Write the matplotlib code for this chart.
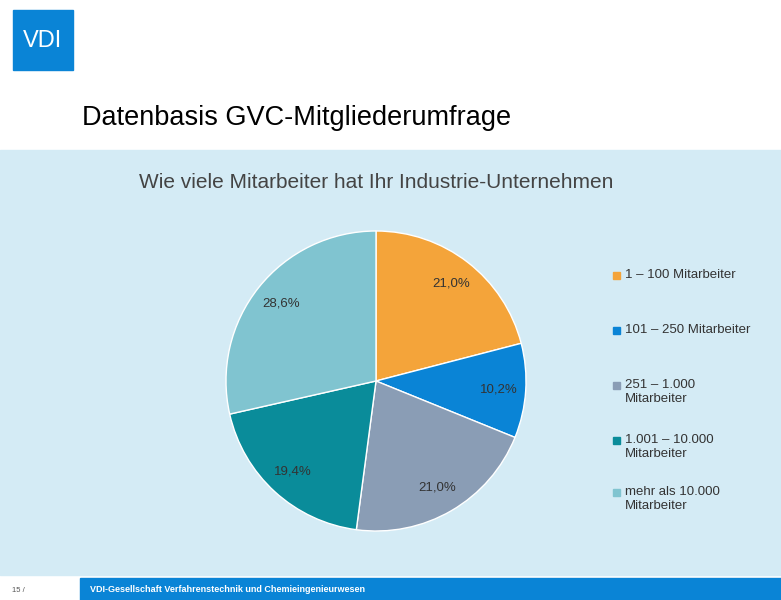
import numpy as np
import matplotlib.pyplot as plt
from matplotlib.patches import Rectangle

labels = ['1 – 100 Mitarbeiter', '101 – 250 Mitarbeiter', '251 – 1.000\nMitarbeiter',
          '1.001 – 10.000\nMitarbeiter', 'mehr als 10.000\nMitarbeiter']
values = [21.0, 10.2, 21.0, 19.4, 28.6]
colors = ['#F4A43A', '#0A84D6', '#8A9DB5', '#0A8C9A', '#80C4D0']

W, H = 781, 600
fig = plt.figure(figsize=(W / 100, H / 100), dpi=100)
bg = fig.add_axes([0, 0, 1, 1])
bg.set_xlim(0, W)
bg.set_ylim(H, 0)
bg.axis('off')

# panel, logo, footer
bg.add_patch(Rectangle((0, 150), W, 425, color='#D4EBF5', zorder=0))
bg.add_patch(Rectangle((13, 10), 60, 60, color='#0A84D6'))
bg.text(43, 41, 'VDI', color='white', fontsize=17, ha='center', va='center',
        family='Liberation Sans')
bg.add_patch(Rectangle((80, 578), W - 80, 22, color='#0A84D6'))
bg.text(90, 589, 'VDI-Gesellschaft Verfahrenstechnik und Chemieingenieurwesen',
        color='white', fontsize=6.5, fontweight='bold', va='center', family='Liberation Sans')
bg.text(12, 590, '15 /', color='#555555', fontsize=5.5, va='center', family='Liberation Sans')
bg.text(82, 118, 'Datenbasis GVC-Mitgliederumfrage', fontsize=19.5, va='center',
        family='Liberation Sans', color='black')
bg.text(376, 183, 'Wie viele Mitarbeiter hat Ihr Industrie-Unternehmen', fontsize=15,
        ha='center', va='center', family='Liberation Sans', color='#444444')

# pie
R = 150
ax = fig.add_axes([(376 - R) / W, 1 - (381 + R) / H, 2 * R / W, 2 * R / H])
wedges, texts = ax.pie(values, colors=colors, startangle=90, counterclock=False,
                       wedgeprops=dict(edgecolor='white', linewidth=1.0))
ang = 90
for w, v in zip(wedges, values):
    mid = np.deg2rad(ang - v * 3.6 / 2)
    ang -= v * 3.6
    ax.text(0.82 * np.cos(mid), 0.82 * np.sin(mid), f'{v:.1f}%'.replace('.', ','),
            ha='center', va='center', fontsize=9.5, color='#333333', family='Liberation Sans')
ax.set_xlim(-1, 1)
ax.set_ylim(-1, 1)
ax.set_aspect('equal')

# legend
ys = [275, 330, 385, 440, 492]
for y, lab, c in zip(ys, labels, colors):
    bg.add_patch(Rectangle((613, y - 3.5), 7, 7, color=c))
    bg.text(625, y - 6, lab, fontsize=9.5, va='top', family='Liberation Sans',
            color='#333333', linespacing=1.25)

fig.savefig('out.png', dpi=100)
